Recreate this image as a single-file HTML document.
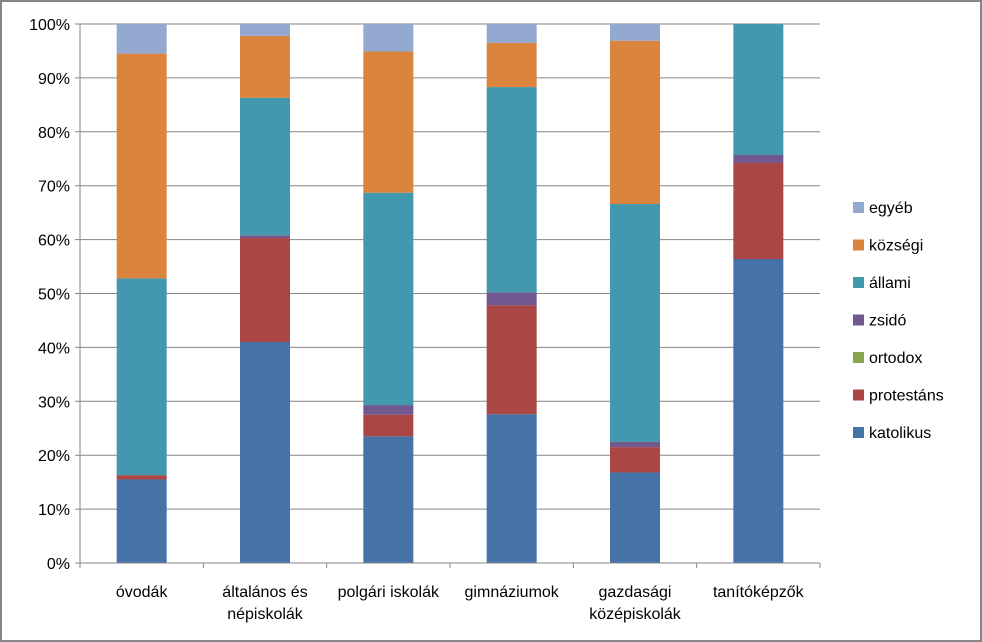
<!DOCTYPE html>
<html><head><meta charset="utf-8"><style>
body{margin:0;background:#fff;}
svg{display:block;font-family:"Liberation Sans","DejaVu Sans",sans-serif;}
</style></head><body>
<svg id="chart" width="982" height="642">
<rect x="1" y="1" width="980" height="640" fill="#fff" stroke="#868686" stroke-width="2"/>
<g id="grid"></g><g id="bars"></g><g id="axes"></g><g id="legend"></g>
</svg>
<script>
const categories = [["óvodák"],["általános és","népiskolák"],["polgári iskolák"],["gimnáziumok"],["gazdasági","középiskolák"],["tanítóképzők"]];
const seriesNames = ["katolikus","protestáns","ortodox","zsidó","állami","községi","egyéb"];
const seriesColors = ["#4572a7","#aa4643","#89a54e","#71588f","#4198af","#db843d","#93a9cf"];
const katolikus = [15.5,41.0,23.5,27.6,16.8,56.4];
const protestans = [0.8,19.3,4.0,20.2,4.7,17.8];
const ortodox = [0,0,0,0,0,0];
const zsido = [0,0.5,1.8,2.4,1.0,1.5];
const allami = [36.5,25.5,39.4,38.1,44.1,24.3];
const kozsegi = [41.7,11.5,26.2,8.2,30.3,0];
const egyeb = [5.5,2.2,5.1,3.5,3.1,0];
const yTicks = [0,10,20,30,40,50,60,70,80,90,100];
const series = [katolikus,protestans,ortodox,zsido,allami,kozsegi,egyeb];

const NS="http://www.w3.org/2000/svg";
const X0=80,X1=820,Y0=563,Y1=24;
const y=v=>Y0-(v/100)*(Y0-Y1);
const bw=(X1-X0)/categories.length;
const xc=i=>X0+bw*(i+0.5);
function mk(tag,attrs,parent){const e=document.createElementNS(NS,tag);for(const k in attrs)e.setAttribute(k,attrs[k]);parent.appendChild(e);return e;}
const grid=document.getElementById('grid'),bars=document.getElementById('bars'),axes=document.getElementById('axes'),legend=document.getElementById('legend');
yTicks.forEach(t=>{
  const l=mk('line',{x1:X0-5,x2:X1,y1:y(t),y2:y(t),stroke:'#868686','stroke-width':1},grid);
  
  
  const tx=mk('text',{x:X0-10,y:y(t)+6,'text-anchor':'end','font-size':16,fill:'#000'},axes);
  tx.textContent=t+'%';
  
  
});
const ax=mk('line',{x1:X0,x2:X0,y1:Y1,y2:Y0,stroke:'#868686'},axes);


const xa=mk('line',{x1:X0,x2:X1,y1:Y0,y2:Y0,stroke:'#868686'},axes);


for(let i=0;i<=categories.length;i++){
  const tk=mk('line',{x1:X0+bw*i,x2:X0+bw*i,y1:Y0,y2:Y0+5,stroke:'#868686'},axes);
  
  
}
categories.forEach((c,i)=>{
  let cum=0;
  series.forEach((s,j)=>{
    const v=s[i];
    if(v>0){
      const r=mk('rect',{x:xc(i)-25,width:50,y:y(cum+v),height:y(cum)-y(cum+v),fill:seriesColors[j]},bars);
      
      
    }
    cum+=v;
  });
  c.forEach((line,k)=>{
    const t=mk('text',{x:xc(i),y:597+k*22,'text-anchor':'middle','font-size':16,fill:'#000'},axes);
    t.textContent=line;
    
    
  });
});
for(let j=seriesNames.length-1,r=0;j>=0;j--,r++){
  const yy=208+r*37.5;
  const sq=mk('rect',{x:853,y:yy-6,width:11,height:11,fill:seriesColors[j]},legend);
  
  
  const t=mk('text',{x:869,y:yy+5,'font-size':16,fill:'#000'},legend);
  t.textContent=seriesNames[j];
  
  
}
</script>
</body></html>
